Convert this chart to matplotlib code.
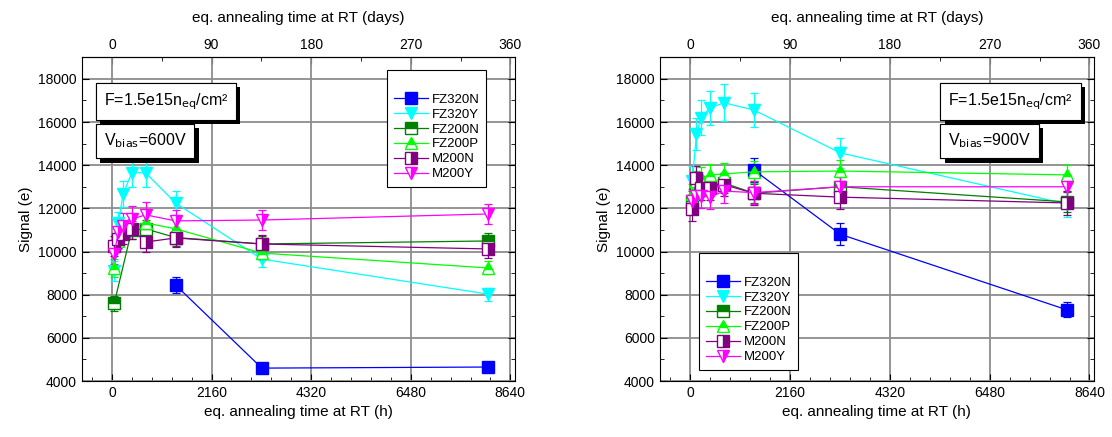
#!/usr/bin/env python3
"""Signal vs eq. annealing time at RT, 600 V and 900 V, six sensor types."""
import matplotlib
matplotlib.use("Agg")
import matplotlib.pyplot as plt
import matplotlib.patheffects as pe
from matplotlib.lines import Line2D
from matplotlib.ticker import MultipleLocator

plt.rcParams["font.family"] = ["Liberation Sans", "DejaVu Sans"]

# annealing steps (h at RT)
T_ALL = [50, 140, 240, 430, 730, 1380, 3250, 8150]
T_LATE = [1380, 3250, 8150]
T_FZ200N_600 = [50, 430, 730, 1380, 3250, 8150]

# 600 V
fz320n_600 = [8450, 4600, 4650]
fz320y_600 = [9100, 11300, 12650, 13650, 13650, 12250, 9650, 8030]
fz200n_600 = [7600, 11000, 11050, 10650, 10350, 10490]
fz200p_600 = [9240, 10500, 11000, 11200, 11330, 11050, 9930, 9240]
m200n_600 = [10250, 10600, 10800, 11050, 10440, 10630, 10350, 10120]
m200y_600 = [9900, 10900, 11200, 11500, 11700, 11420, 11460, 11740]

err_fz320n_600 = [350, 120, 120]
err_fz320y_600 = [450, 550, 600, 650, 650, 550, 350, 300]
err_fz200n_600 = [350, 400, 400, 400, 350, 350]
err_fz200p_600 = [400, 400, 400, 400, 400, 350, 300, 300]
err_m200n_600 = [450, 450, 450, 450, 450, 400, 400, 400]
err_m200y_600 = [500, 550, 600, 600, 600, 500, 450, 450]

# 900 V
fz320n_900 = [13780, 10800, 7300]
fz320y_900 = [13270, 15450, 16200, 16650, 16890, 16560, 14570, 12200]
fz200n_900 = [12350, 13000, 13050, 13040, 13180, 12700, 13000, 12300]
fz200p_900 = [12670, 13270, 13400, 13550, 13600, 13690, 13730, 13550]
m200n_900 = [11970, 13400, 12950, 12950, 13100, 12700, 12520, 12250]
m200y_900 = [12350, 12580, 12580, 12520, 12800, 12730, 13000, 13000]

err_fz320n_900 = [550, 500, 350]
err_fz320y_900 = [700, 750, 800, 800, 850, 800, 700, 600]
err_fz200n_900 = [450, 450, 450, 450, 450, 450, 450, 450]
err_fz200p_900 = [450, 450, 500, 500, 500, 500, 500, 450]
err_m200n_900 = [550, 550, 550, 550, 550, 550, 550, 550]
err_m200y_900 = [550, 550, 550, 550, 550, 550, 550, 550]

NAMES = ["FZ320N", "FZ320Y", "FZ200N", "FZ200P", "M200N", "M200Y"]
STYLES = [
    dict(color="#0000FF", marker="s", fillstyle="full"),
    dict(color="#00FFFF", marker="v", fillstyle="full"),
    dict(color="#008000", marker="s", fillstyle="top"),
    dict(color="#00FF00", marker="^", fillstyle="top"),
    dict(color="#800080", marker="s", fillstyle="right"),
    dict(color="#FF00FF", marker="v", fillstyle="right"),
]
MS = 8.5
DAY_TICKS = [0, 90, 180, 270, 360]


def shadow_box(ax, x, y, txt):
    t = ax.text(x, y, txt, transform=ax.transAxes, fontsize=11.5, va="top", ha="left",
                bbox=dict(boxstyle="square,pad=0.5", fc="white", ec="black", lw=0.8),
                zorder=6)
    t.get_bbox_patch().set_path_effects(
        [pe.withSimplePatchShadow(offset=(3, -3), shadow_rgbFace="black", alpha=1.0),
         pe.Normal()])


def panel(ax, series, vbias, box_x, leg_anchor):
    handles = []
    for (t, v, e), name, st in zip(series, NAMES, STYLES):
        ax.errorbar(t, v, yerr=e, color=st["color"], marker=st["marker"],
                    fillstyle=st["fillstyle"], markerfacecoloralt="white",
                    ms=MS, lw=0.9, elinewidth=0.9, capsize=3, capthick=0.9, zorder=3)
        handles.append(Line2D([], [], color=st["color"], marker=st["marker"],
                              fillstyle=st["fillstyle"], markerfacecoloralt="white",
                              ms=MS, lw=0.9, label=name))
    ax.set_xlim(-650, 8730)
    ax.set_ylim(4000, 19000)
    ax.xaxis.set_major_locator(MultipleLocator(2160))
    ax.xaxis.set_minor_locator(MultipleLocator(432))
    ax.yaxis.set_minor_locator(MultipleLocator(1000))
    ax.set_yticks(range(4000, 18001, 2000))
    ax.tick_params(which="both", direction="in", top=False, right=True, labelsize=10)
    ax.tick_params(which="major", length=5)
    ax.tick_params(which="minor", length=3)
    ax.grid(True, which="major", color="#8c8c8c", lw=1.3)
    ax.set_axisbelow(True)
    ax.set_xlabel("eq. annealing time at RT (h)", fontsize=11)
    ax.set_ylabel("Signal (e)", fontsize=11)
    sec = ax.secondary_xaxis("top", functions=(lambda h: h / 24.0, lambda d: d * 24.0))
    sec.set_xticks(DAY_TICKS)
    sec.xaxis.set_minor_locator(MultipleLocator(45))
    sec.tick_params(which="both", direction="in", labelsize=10)
    sec.tick_params(which="major", length=5)
    sec.tick_params(which="minor", length=3)
    sec.set_xlabel("eq. annealing time at RT (days)", fontsize=11, labelpad=12)
    shadow_box(ax, box_x, 0.895, r"F=1.5e15n$_{\rm eq}$/cm²")
    shadow_box(ax, box_x, 0.77, r"V$_{\rm bias}$=" + vbias)
    leg = ax.legend(handles=handles, loc="upper left", bbox_to_anchor=leg_anchor,
                    fontsize=9.5, title=" ", title_fontsize=10, fancybox=False,
                    edgecolor="black", framealpha=1, labelspacing=0.2,
                    handlelength=2.6, borderpad=0.5, handletextpad=0.3)
    leg.get_frame().set_linewidth(0.8)
    leg.set_zorder(7)


fig = plt.figure(figsize=(11.12, 4.37), dpi=100)
ax1 = fig.add_axes([0.0737, 0.128, 0.389, 0.741])
ax2 = fig.add_axes([0.5935, 0.128, 0.390, 0.741])

s600 = [(T_LATE, fz320n_600, err_fz320n_600), (T_ALL, fz320y_600, err_fz320y_600),
        (T_FZ200N_600, fz200n_600, err_fz200n_600), (T_ALL, fz200p_600, err_fz200p_600),
        (T_ALL, m200n_600, err_m200n_600), (T_ALL, m200y_600, err_m200y_600)]
s900 = [(T_LATE, fz320n_900, err_fz320n_900), (T_ALL, fz320y_900, err_fz320y_900),
        (T_ALL, fz200n_900, err_fz200n_900), (T_ALL, fz200p_900, err_fz200p_900),
        (T_ALL, m200n_900, err_m200n_900), (T_ALL, m200y_900, err_m200y_900)]

panel(ax1, s600, "600V", 0.05, (0.69, 0.98))
panel(ax2, s900, "900V", 0.665, (0.075, 0.415))

fig.savefig("out.png", dpi=100, facecolor="white")
plt.close(fig)
